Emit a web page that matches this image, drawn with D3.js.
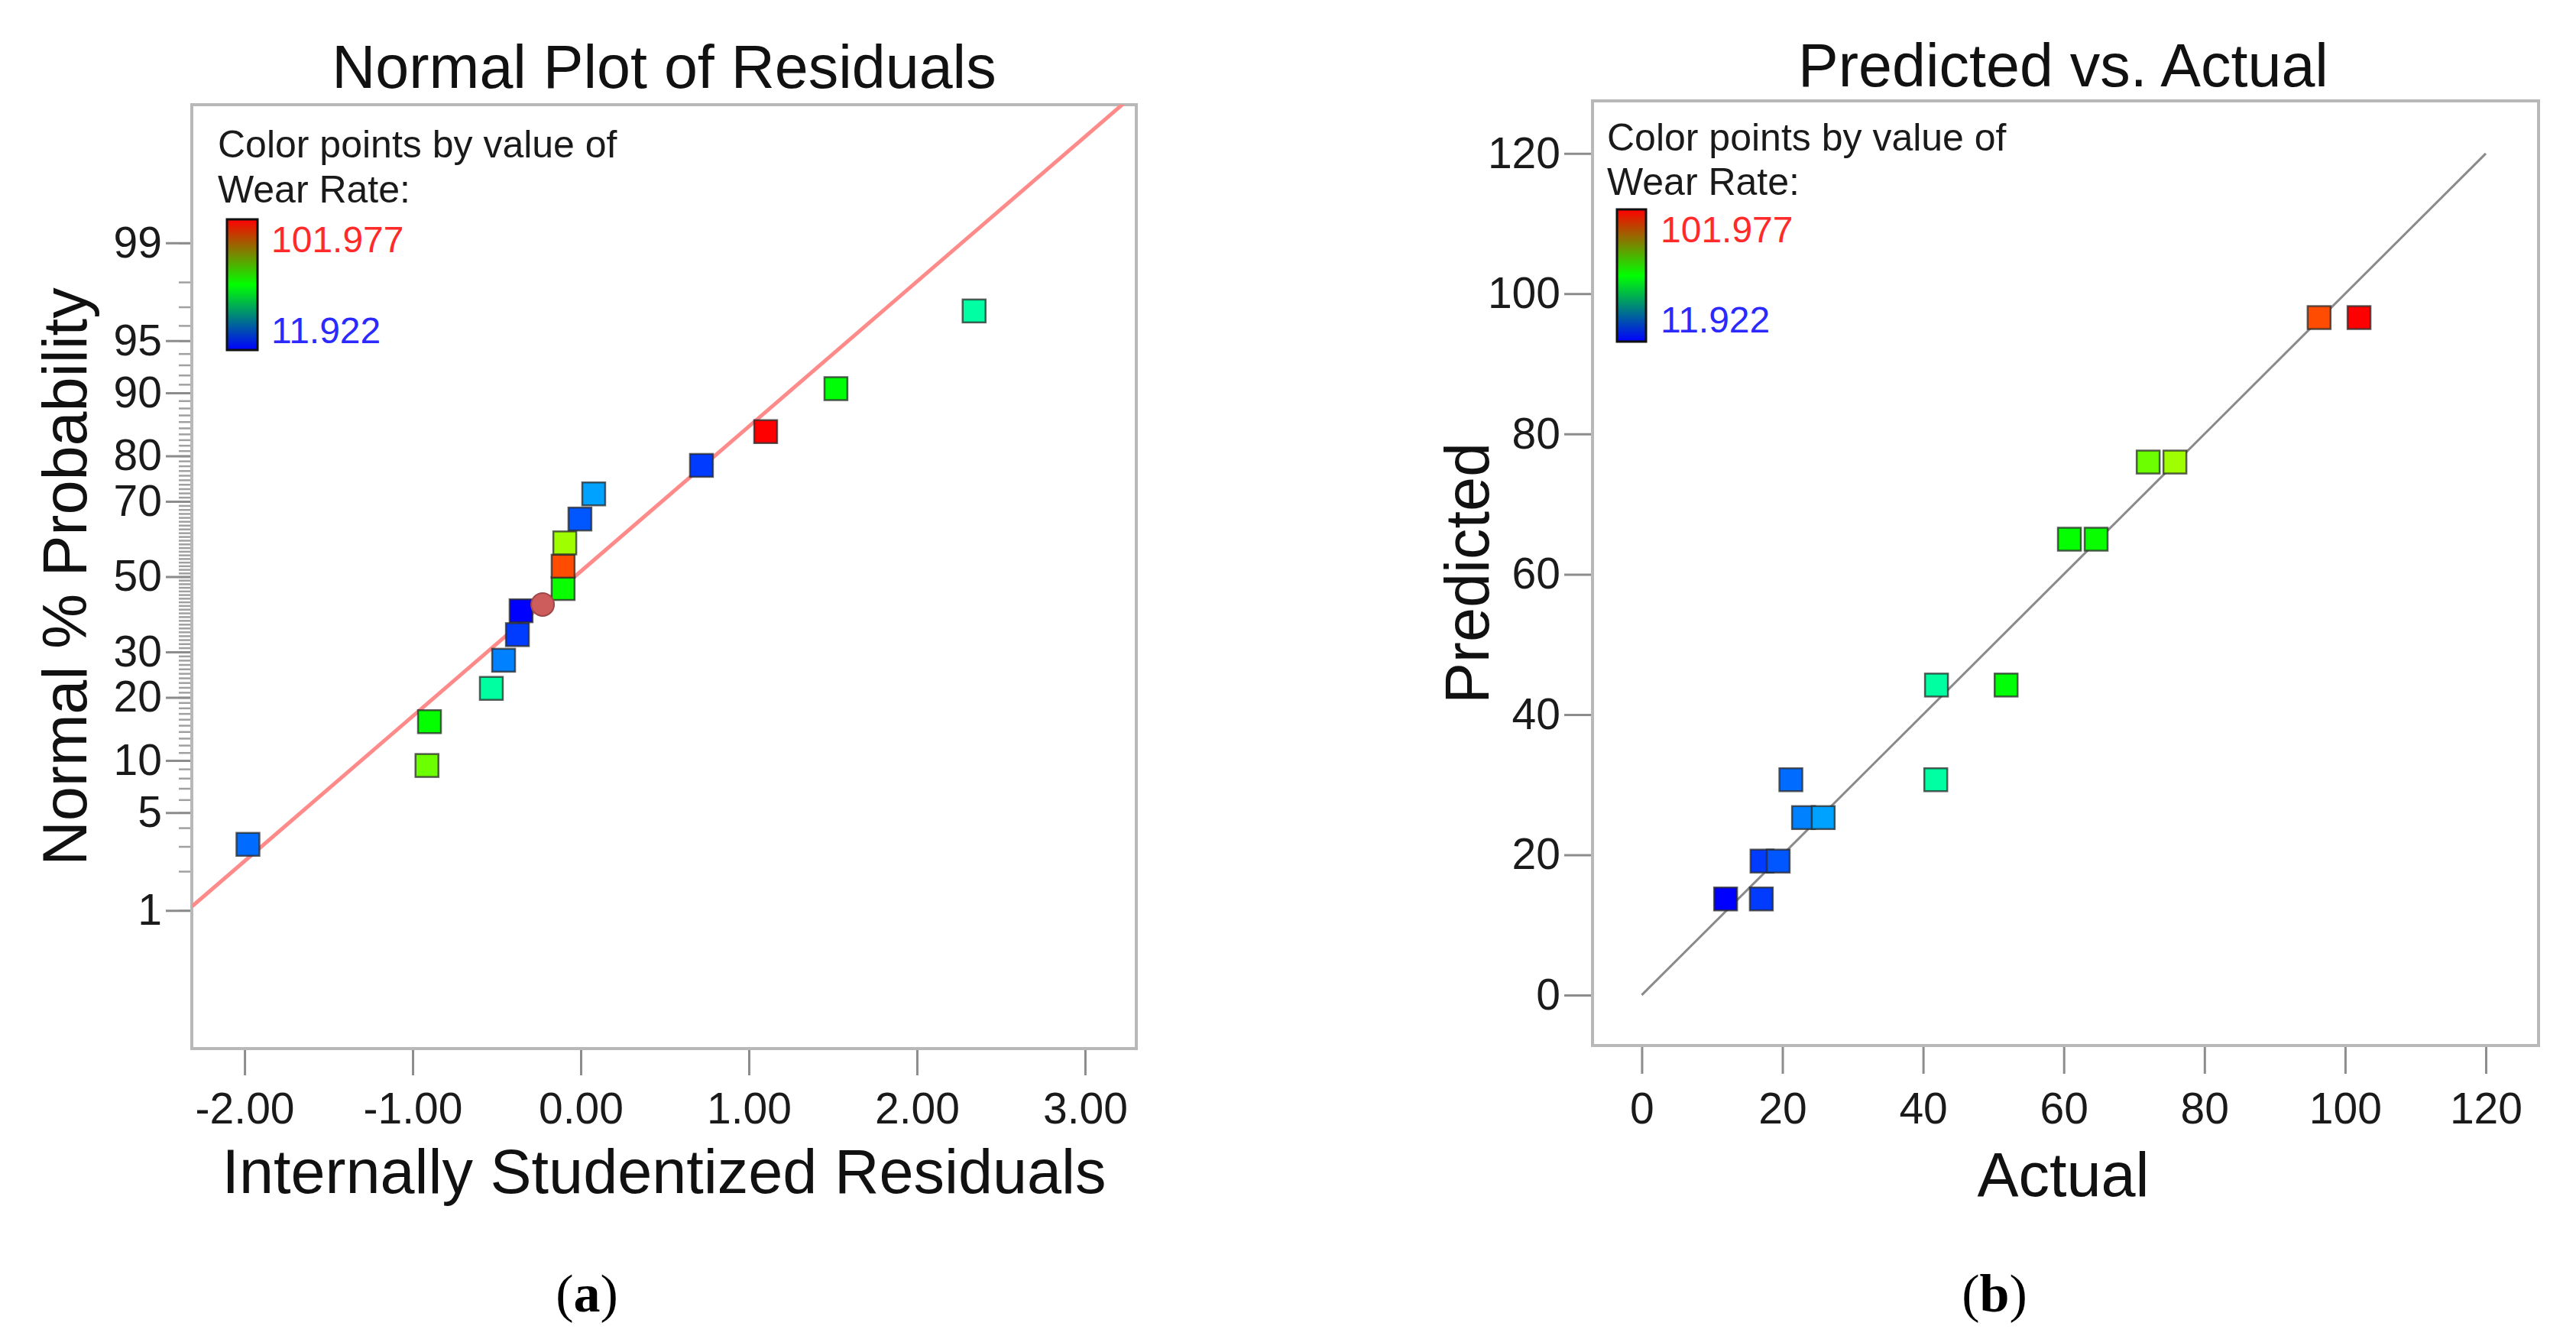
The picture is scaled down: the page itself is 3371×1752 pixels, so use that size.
<!DOCTYPE html>
<html>
<head>
<meta charset="utf-8">
<script src="https://cdn.jsdelivr.net/npm/d3@7"></script>
<style>
  body { margin: 0; background: #fff; }
  text { font-family: "Liberation Sans", Arial, sans-serif; }
</style>
</head>
<body>
<div id="chart"></div>
<script>
// ---- data ----
// (a) normal plot: residual, normal % probability, wear rate (colour)
const residuals = [-1.98, -0.915, -0.90, -0.532, -0.459, -0.377, -0.355, -0.105,
                   -0.105, -0.095, -0.005, 0.077, 0.718, 1.10, 1.518, 2.34];
const probPercent = [3.1, 9.4, 15.6, 21.8, 28.0, 34.3, 40.6, 46.7,
                     52.9, 59.3, 65.6, 71.8, 78.1, 84.4, 90.5, 96.8];
const residualWear = [21.2, 72.0, 60.8, 41.9, 23.0, 17.1, 11.922, 64.6,
                      96.3, 75.8, 19.4, 25.8, 17.0, 101.977, 51.8, 41.8];
const markerResidual = -0.227;
const markerPercent = 42.3;
const fitSlope = 1.01;
const fitIntercept = 0.037;

// (b) predicted vs actual
const actual = [11.922, 17.0, 17.1, 19.4, 21.2, 23.0, 25.8, 41.8,
                41.9, 51.8, 60.8, 64.6, 72.0, 75.8, 96.3, 101.977];
const predicted = [13.7, 13.7, 19.1, 19.1, 30.7, 25.3, 25.3, 30.7,
                   44.2, 44.2, 65.0, 65.0, 76.0, 76.0, 96.6, 96.6];
const diagonal = [0, 120];

// ticks
const probMajorTicks = [1, 5, 10, 20, 30, 50, 70, 80, 90, 95, 99];
const probMinorTicks = d3.range(1, 100);
const residualTicks = [-2, -1, 0, 1, 2, 3];
const valueTicks = [0, 20, 40, 60, 80, 100, 120];
const wearMin = 11.922, wearMax = 101.977;

// ---- helpers ----
// inverse of the standard normal cdf (Acklam)
function normInv(p) {
    const a = [-39.69683028665376, 220.9460984245205, -275.9285104469687, 138.3577518672690, -30.66479806614716, 2.506628277459239];
    const b = [-54.47609879822406, 161.5858368580409, -155.6989798598866, 66.80131188771972, -13.28068155288572];
    const c = [-0.007784894002430293, -0.3223964580411365, -2.400758277161838, -2.549732539343734, 4.374664141464968, 2.938163982698783];
    const d = [0.007784695709041462, 0.3224671290700398, 2.445134137142996, 3.754408661907416];
    const pl = 0.02425;
    let q, r;
    if (p < pl) {
        q = Math.sqrt(-2 * Math.log(p));
        return (((((c[0]*q+c[1])*q+c[2])*q+c[3])*q+c[4])*q+c[5]) / ((((d[0]*q+d[1])*q+d[2])*q+d[3])*q+1);
    } else if (p <= 1 - pl) {
        q = p - 0.5; r = q * q;
        return (((((a[0]*r+a[1])*r+a[2])*r+a[3])*r+a[4])*r+a[5])*q / (((((b[0]*r+b[1])*r+b[2])*r+b[3])*r+b[4])*r+1);
    }
    q = Math.sqrt(-2 * Math.log(1 - p));
    return -(((((c[0]*q+c[1])*q+c[2])*q+c[3])*q+c[4])*q+c[5]) / ((((d[0]*q+d[1])*q+d[2])*q+d[3])*q+1);
}

const hueScale = d3.scaleLinear()
    .domain([wearMin, 41.8, 50, 64.6, wearMax])
    .range([240, 158, 122, 118, 0])
    .clamp(true);
const wearColor = v => d3.hsl(hueScale(v), 1, 0.5).formatHex();

const W = 3371, H = 1752;
const svg = d3.select("#chart").append("svg")
    .attr("width", W).attr("height", H);
svg.append("rect").attr("width", W).attr("height", H).attr("fill", "#fff");

const defs = svg.append("defs");
const grad = defs.append("linearGradient")
    .attr("id", "wearGrad").attr("x1", 0).attr("y1", 0).attr("x2", 0).attr("y2", 1);
grad.append("stop").attr("offset", "0%").attr("stop-color", "#ff0000");
grad.append("stop").attr("offset", "50%").attr("stop-color", "#00ff00");
grad.append("stop").attr("offset", "100%").attr("stop-color", "#0000ff");

const frameColor = "#b8b8b8";
const tickColor = "#8c8c8c";
const tickFont = 57;
const squareSize = 30;

// hyphen instead of the unicode minus d3 uses
const residualFormat = d => d3.format(".2f")(d).replace("\u2212", "-");

function styleAxis(g) {
    g.select(".domain").remove();
    g.selectAll(".tick line").attr("stroke", tickColor).attr("stroke-width", 3);
    g.selectAll(".tick text")
        .attr("fill", "#1a1a1a")
        .style("font-size", tickFont + "px")
        .style("font-family", "'Liberation Sans', Arial, sans-serif");
}

function drawFrame(f) {
    svg.append("rect")
        .attr("x", f.x0).attr("y", f.y0)
        .attr("width", f.x1 - f.x0).attr("height", f.y1 - f.y0)
        .attr("fill", "none").attr("stroke", frameColor).attr("stroke-width", 4);
}

function drawLegend(lg) {
    const g = svg.append("g").attr("class", "legend");
    g.append("text").attr("x", lg.x).attr("y", lg.y1)
        .attr("font-size", 50).attr("fill", "#1a1a1a").text("Color points by value of");
    g.append("text").attr("x", lg.x).attr("y", lg.y2)
        .attr("font-size", 50).attr("fill", "#1a1a1a").text("Wear Rate:");
    g.append("rect")
        .attr("x", lg.barX).attr("y", lg.barY)
        .attr("width", lg.barW).attr("height", lg.barH)
        .attr("fill", "url(#wearGrad)").attr("stroke", "#111").attr("stroke-width", 3);
    g.append("text").attr("x", lg.labelX).attr("y", lg.hiY)
        .attr("font-size", 48).attr("fill", "#ff2a2a").text(wearMax.toFixed(3));
    g.append("text").attr("x", lg.labelX).attr("y", lg.loY)
        .attr("font-size", 48).attr("fill", "#2a2aff").text(wearMin.toFixed(3));
}

function drawSquares(data, xs, ys) {
    svg.append("g").selectAll("rect.pt")
        .data(data)
        .join("rect")
        .attr("class", "pt")
        .attr("x", d => xs(d.x) - squareSize / 2)
        .attr("y", d => ys(d.y) - squareSize / 2)
        .attr("width", squareSize).attr("height", squareSize)
        .attr("fill", d => wearColor(d.wear))
        .attr("stroke", "#2a2a2a").attr("stroke-opacity", 0.75)
        .attr("stroke-width", 2.5);
}

// ---------- (a) Normal Plot of Residuals ----------
const fa = {x0: 251, x1: 1487, y0: 137, y1: 1372};
const xA = d3.scaleLinear().domain([-2.314, 3.305]).range([fa.x0, fa.x1]);
const zA = d3.scaleLinear().domain([-3.29, 3.29]).range([fa.y1, fa.y0]);
const yA = p => zA(normInv(p / 100));

svg.append("g")
    .attr("transform", `translate(${fa.x0},0)`)
    .call(d3.axisLeft(zA).tickValues(probMinorTicks.map(p => normInv(p / 100)))
        .tickSize(17).tickFormat(""))
    .call(styleAxis)
    .call(g => g.selectAll(".tick line").attr("stroke", "#a0a0a0").attr("stroke-width", 2.5));

svg.append("g")
    .attr("transform", `translate(${fa.x0},0)`)
    .call(d3.axisLeft(zA).tickValues(probMajorTicks.map(p => normInv(p / 100)))
        .tickSize(34).tickPadding(5)
        .tickFormat((d, i) => probMajorTicks[i]))
    .call(styleAxis);

svg.append("g")
    .attr("transform", `translate(0,${fa.y1})`)
    .call(d3.axisBottom(xA).tickValues(residualTicks).tickSize(35).tickPadding(23)
        .tickFormat(residualFormat))
    .call(styleAxis);

drawFrame(fa);

defs.append("clipPath").attr("id", "clipA")
    .append("rect").attr("x", fa.x0).attr("y", fa.y0)
    .attr("width", fa.x1 - fa.x0).attr("height", fa.y1 - fa.y0);

const fitDomain = xA.domain();
svg.append("line")
    .attr("clip-path", "url(#clipA)")
    .attr("x1", xA(fitDomain[0])).attr("y1", zA(fitSlope * fitDomain[0] + fitIntercept))
    .attr("x2", xA(fitDomain[1])).attr("y2", zA(fitSlope * fitDomain[1] + fitIntercept))
    .attr("stroke", "#ff8a8a").attr("stroke-width", 5);

drawSquares(residuals.map((r, i) => ({x: r, y: probPercent[i], wear: residualWear[i]})), xA, yA);

svg.append("circle")
    .attr("cx", xA(markerResidual)).attr("cy", yA(markerPercent)).attr("r", 15)
    .attr("fill", "#cd5c5c").attr("stroke", "#a04848").attr("stroke-width", 2);

drawLegend({x: 285, y1: 206, y2: 265, barX: 297, barY: 287, barW: 40, barH: 171,
            labelX: 355, hiY: 330, loY: 449});

svg.append("text").attr("x", (fa.x0 + fa.x1) / 2).attr("y", 115)
    .attr("text-anchor", "middle").attr("font-size", 79).attr("fill", "#111")
    .text("Normal Plot of Residuals");
svg.append("text").attr("x", (fa.x0 + fa.x1) / 2).attr("y", 1561)
    .attr("text-anchor", "middle").attr("font-size", 81).attr("fill", "#111")
    .text("Internally Studentized Residuals");
svg.append("text").attr("transform", `translate(113,${(fa.y0 + fa.y1) / 2}) rotate(-90)`)
    .attr("text-anchor", "middle").attr("font-size", 81).attr("fill", "#111")
    .text("Normal % Probability");

// ---------- (b) Predicted vs. Actual ----------
const fb = {x0: 2084, x1: 3322, y0: 132, y1: 1368};
const xB = d3.scaleLinear().domain([-7, 127.5]).range([fb.x0, fb.x1]);
const yB = d3.scaleLinear().domain([-7.2, 127.5]).range([fb.y1, fb.y0]);

svg.append("g")
    .attr("transform", `translate(${fb.x0},0)`)
    .call(d3.axisLeft(yB).tickValues(valueTicks).tickSize(37).tickPadding(5))
    .call(styleAxis);
svg.append("g")
    .attr("transform", `translate(0,${fb.y1})`)
    .call(d3.axisBottom(xB).tickValues(valueTicks).tickSize(37).tickPadding(25))
    .call(styleAxis);

drawFrame(fb);

svg.append("line")
    .attr("x1", xB(diagonal[0])).attr("y1", yB(diagonal[0]))
    .attr("x2", xB(diagonal[1])).attr("y2", yB(diagonal[1]))
    .attr("stroke", "#8a8a8a").attr("stroke-width", 3);

drawSquares(actual.map((a, i) => ({x: a, y: predicted[i], wear: a})), xB, yB);

drawLegend({x: 2103, y1: 197, y2: 255, barX: 2116, barY: 274, barW: 38, barH: 173,
            labelX: 2173, hiY: 317, loY: 435});

svg.append("text").attr("x", 2700).attr("y", 113)
    .attr("text-anchor", "middle").attr("font-size", 79).attr("fill", "#111")
    .text("Predicted vs. Actual");
svg.append("text").attr("x", 2700).attr("y", 1565)
    .attr("text-anchor", "middle").attr("font-size", 81).attr("fill", "#111")
    .text("Actual");
svg.append("text").attr("transform", `translate(1948,${(fb.y0 + fb.y1) / 2}) rotate(-90)`)
    .attr("text-anchor", "middle").attr("font-size", 81).attr("fill", "#111")
    .text("Predicted");

// panel letters
[["a", 768], ["b", 2610]].forEach(([letter, cx]) => {
    const t = svg.append("text").attr("x", cx).attr("y", 1716)
        .attr("text-anchor", "middle").attr("font-size", 70).attr("fill", "#000")
        .style("font-family", "'Liberation Serif', 'Times New Roman', serif");
    t.append("tspan").text("(");
    t.append("tspan").attr("font-weight", "bold").text(letter);
    t.append("tspan").text(")");
});
</script>
</body>
</html>
